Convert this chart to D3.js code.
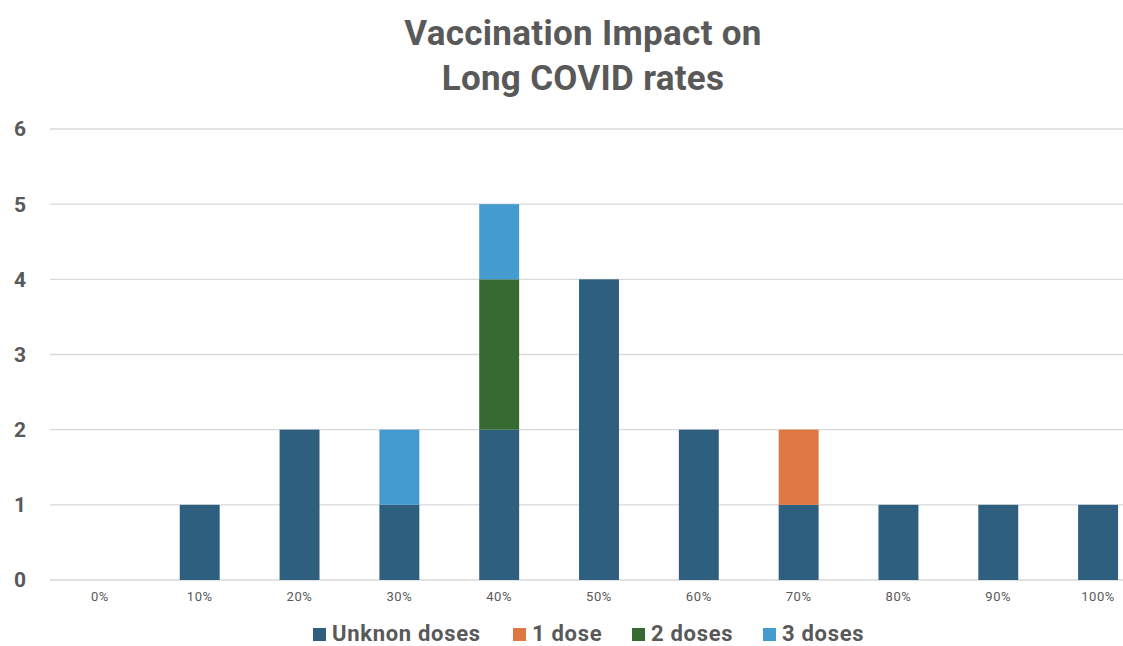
<!DOCTYPE html>
<html>
<head>
<meta charset="utf-8">
<script src="https://cdn.jsdelivr.net/npm/d3@7"></script>
<style>
  body { margin: 0; background: #fff; }
  text { font-family: "Roboto", "DejaVu Sans Condensed", sans-serif; }
</style>
</head>
<body>
<div id="chart"></div>
<script>
const categories = ["0%", "10%", "20%", "30%", "40%", "50%", "60%", "70%", "80%", "90%", "100%"];
const seriesNames = ["Unknon doses", "1 dose", "2 doses", "3 doses"];
const unknownDoses = [0, 1, 2, 1, 2, 4, 2, 1, 1, 1, 1];
const oneDose = [0, 0, 0, 0, 0, 0, 0, 1, 0, 0, 0];
const twoDoses = [0, 0, 0, 0, 2, 0, 0, 0, 0, 0, 0];
const threeDoses = [0, 0, 0, 1, 1, 0, 0, 0, 0, 0, 0];
const yTicks = [0, 1, 2, 3, 4, 5, 6];
const colors = ["#2e5f7f", "#de7842", "#376a30", "#439bd0"];

const width = 1123, height = 646;
const margin = {top: 129, right: -25, bottom: 66, left: 50};

const svg = d3.select("#chart").append("svg")
  .attr("width", width)
  .attr("height", height);

// rows for stacking
const rows = categories.map((c, i) => ({
  cat: c,
  "Unknon doses": unknownDoses[i],
  "1 dose": oneDose[i],
  "2 doses": twoDoses[i],
  "3 doses": threeDoses[i]
}));
const stacked = d3.stack().keys(seriesNames)(rows);

const x = d3.scaleBand()
  .domain(categories)
  .range([margin.left, width - margin.right])
  .paddingInner(0.6)
  .paddingOuter(0.3);

const y = d3.scaleLinear()
  .domain([0, 6])
  .range([height - margin.bottom, margin.top]);

// gridlines
svg.append("g")
  .selectAll("line")
  .data(yTicks)
  .enter()
  .append("line")
  .attr("x1", margin.left)
  .attr("x2", width)
  .attr("y1", d => y(d))
  .attr("y2", d => y(d))
  .attr("stroke", "#d9d9d9")
  .attr("stroke-width", 1.3);

// y labels
svg.append("g")
  .selectAll("text")
  .data(yTicks)
  .enter()
  .append("text")
  .attr("x", 20)
  .attr("y", d => y(d))
  .attr("dy", "0.35em")
  .attr("text-anchor", "middle")
  .style("font-size", "21px")
  .style("font-weight", "700")
  .style("fill", "#595959")
  .text(d => d);

// bars
svg.append("g")
  .selectAll("g")
  .data(stacked)
  .enter()
  .append("g")
  .attr("fill", (d, i) => colors[i])
  .selectAll("rect")
  .data(d => d.filter(p => p[1] - p[0] > 0))
  .enter()
  .append("rect")
  .attr("x", d => x(d.data.cat))
  .attr("width", x.bandwidth())
  .attr("y", d => y(d[1]))
  .attr("height", d => y(d[0]) - y(d[1]));

// x labels
svg.append("g")
  .selectAll("text")
  .data(categories)
  .enter()
  .append("text")
  .attr("x", d => x(d) + x.bandwidth() / 2)
  .attr("y", 601)
  .attr("text-anchor", "middle")
  .style("font-size", "13px")
  .style("letter-spacing", "0.6px")
  .style("fill", "#595959")
  .text(d => d);

// title
const title = svg.append("text")
  .attr("x", 583)
  .attr("text-anchor", "middle")
  .style("font-size", "35px")
  .style("font-weight", "700")
  .style("letter-spacing", "0.3px")
  .style("fill", "#595959");
title.append("tspan").attr("x", 583).attr("y", 45).text("Vaccination Impact on");
title.append("tspan").attr("x", 583).attr("y", 90).text("Long COVID rates");

// legend
const legendX = [313, 513, 632, 763];
const legend = svg.append("g")
  .selectAll("g")
  .data(seriesNames)
  .enter()
  .append("g")
  .attr("transform", (d, i) => "translate(" + legendX[i] + ",0)");
legend.append("rect")
  .attr("x", 0)
  .attr("y", 628)
  .attr("width", 13)
  .attr("height", 13)
  .attr("fill", (d, i) => colors[i]);
legend.append("text")
  .attr("x", 19)
  .attr("y", 641)
  .style("font-size", "22px")
  .style("font-weight", "700")
  .style("letter-spacing", "0.7px")
  .style("fill", "#595959")
  .text(d => d);
</script>
</body>
</html>
